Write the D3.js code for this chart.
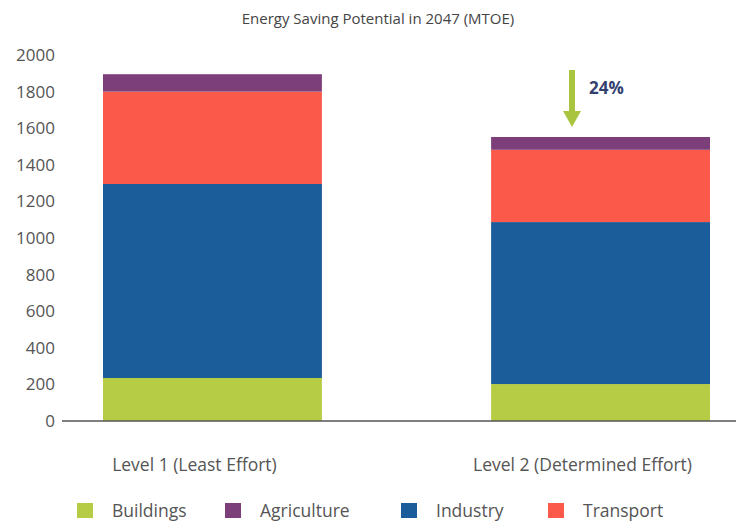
<!DOCTYPE html>
<html>
<head>
<meta charset="utf-8">
<script src="https://cdn.jsdelivr.net/npm/d3@7"></script>
<style>
  body { margin: 0; background: #fff; }
  text { font-family: "Open Sans", "Liberation Sans", sans-serif; fill: #555; }
</style>
</head>
<body>
<svg width="736" height="522"></svg>
<script>
var categories = ["Level 1 (Least Effort)", "Level 2 (Determined Effort)"];
var buildings = [235, 202];
var industry = [1060, 885];
var transport = [505, 395];
var agriculture = [95, 70];
var yTicks = [0, 200, 400, 600, 800, 1000, 1200, 1400, 1600, 1800, 2000];
var legendOrder = ["Buildings", "Agriculture", "Industry", "Transport"];

var svg = d3.select("svg"),
    width = +svg.attr("width"),
    height = +svg.attr("height");

var colors = {
    Buildings: "#b6cc44",
    Industry: "#1a5d9a",
    Transport: "#fb5a4b",
    Agriculture: "#7d3f7a"
};

var series = { Buildings: buildings, Industry: industry, Transport: transport, Agriculture: agriculture };
var stackKeys = ["Buildings", "Industry", "Transport", "Agriculture"];

var table = categories.map(function (c, i) {
    var row = { cat: c };
    stackKeys.forEach(function (k) { row[k] = series[k][i]; });
    return row;
});

var x = d3.scaleBand()
    .domain(categories)
    .range([103, 710])
    .paddingInner(0.436)
    .paddingOuter(0);

var y = d3.scaleLinear()
    .domain([0, 2000])
    .range([421, 55]);

// title
svg.append("text")
    .attr("x", 378)
    .attr("y", 24)
    .attr("text-anchor", "middle")
    .style("font-size", "15px")
    .style("fill", "#444")
    .text("Energy Saving Potential in 2047 (MTOE)");

// y tick labels
svg.append("g").selectAll("text")
    .data(yTicks)
    .enter().append("text")
    .attr("x", 55)
    .attr("y", function (d) { return y(d); })
    .attr("dy", "0.35em")
    .attr("text-anchor", "end")
    .style("font-size", "17px")
    .text(function (d) { return d; });

var stacked = d3.stack().keys(stackKeys)(table);

svg.append("g").selectAll("g")
    .data(stacked)
    .enter().append("g")
    .attr("fill", function (d) { return colors[d.key]; })
    .selectAll("rect")
    .data(function (d) { return d; })
    .enter().append("rect")
    .attr("x", function (d) { return x(d.data.cat); })
    .attr("width", x.bandwidth())
    .attr("y", function (d) { return y(d[1]); })
    .attr("height", function (d) { return y(d[0]) - y(d[1]); });

// baseline
svg.append("line")
    .attr("x1", 62).attr("x2", width)
    .attr("y1", y(0)).attr("y2", y(0))
    .attr("stroke", "#555")
    .attr("stroke-width", 1.5);

// category labels
svg.append("g").selectAll("text")
    .data(categories)
    .enter().append("text")
    .attr("x", function (d) { return x(d) + x.bandwidth() / 2 - 18; })
    .attr("y", 471)
    .attr("text-anchor", "middle")
    .style("font-size", "17.5px")
    .text(function (d) { return d; });

// reduction arrow
var total2 = buildings[1] + industry[1] + transport[1] + agriculture[1];
var ax = 572;
var tipY = y(total2) - 10;
svg.append("line")
    .attr("x1", ax).attr("x2", ax)
    .attr("y1", 70).attr("y2", tipY - 12)
    .attr("stroke", "#a9c43e")
    .attr("stroke-width", 6);
svg.append("path")
    .attr("d", "M" + (ax - 9) + "," + (tipY - 16) + "L" + (ax + 9) + "," + (tipY - 16) + "L" + ax + "," + tipY + "Z")
    .attr("fill", "#a9c43e");
svg.append("text")
    .attr("x", 589)
    .attr("y", 94)
    .style("font-size", "17px")
    .style("font-weight", "bold")
    .style("fill", "#33416e")
    .text("24%");

// legend
var legendX = [77, 225, 401, 548];
var legend = svg.append("g").selectAll("g")
    .data(legendOrder)
    .enter().append("g")
    .attr("transform", function (d, i) { return "translate(" + legendX[i] + ",503)"; });
legend.append("rect")
    .attr("width", 16)
    .attr("height", 15)
    .attr("fill", function (d) { return colors[d]; });
legend.append("text")
    .attr("x", 35)
    .attr("y", 8)
    .attr("dy", "0.35em")
    .style("font-size", "17.5px")
    .text(function (d) { return d; });
</script>
</body>
</html>
